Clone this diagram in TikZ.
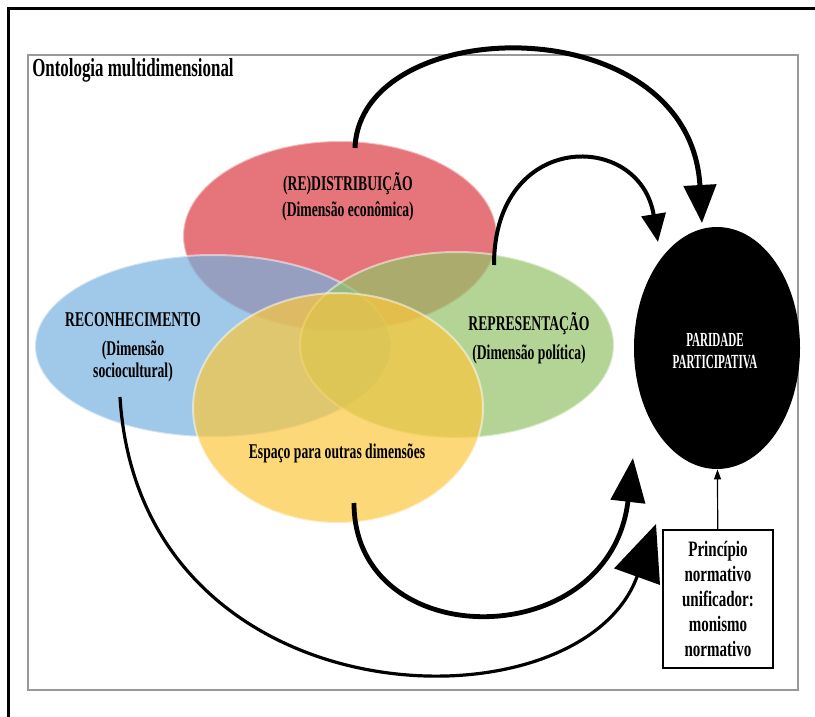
\documentclass[tikz,border=0pt]{standalone}
\usepackage{fontspec}
\setmainfont{Liberation Serif}
\usetikzlibrary{shapes.geometric,arrows.meta}
\definecolor{redistcol}{RGB}{218,59,65}
\definecolor{reconcol}{RGB}{119,176,222}
\definecolor{reprcol}{RGB}{148,194,105}
\definecolor{espacocol}{RGB}{251,199,62}

\begin{document}
\begin{tikzpicture}[x=0.5pt,y=-0.5pt,
  dim/.style={ellipse,inner sep=0,fill opacity=0.7,draw=white,draw opacity=0.5,line width=1pt},
  lbl/.style={font=\bfseries\fontsize{10.5}{11}\selectfont,xscale=0.65,align=center,inner sep=0},
  flow/.style={line width=#1,line cap=butt}]
\useasboundingbox (0,0) rectangle (815,717);
\draw[line width=1.5pt] (8,717) -- (8,9) -- (815,9);
\draw[gray!80,line width=0.6pt] (28,55) rectangle (798,690);
\node[lbl,anchor=west,font=\bfseries\fontsize{13}{15}\selectfont] (onto) at (32,70) {Ontologia multidimensional};

\node[dim,fill=redistcol,minimum width=157pt,minimum height=95pt] (redist) at (340,236) {};
\node[dim,fill=reconcol,minimum width=178pt,minimum height=91pt] (recon) at (213,346) {};
\node[dim,fill=reprcol,minimum width=157pt,minimum height=93pt] (repres) at (457,345) {};
\node[dim,fill=espacocol,minimum width=145pt,minimum height=115pt] (espaco) at (338,408) {};

\node[lbl] (redistlbl) at (348,184) {(RE)DISTRIBUIÇÃO};
\node[lbl] (redistsub) at (348,211) {(Dimensão econômica)};
\node[lbl] (reconlbl) at (133,320) {RECONHECIMENTO};
\node[lbl] (reconsub) at (133,361) {(Dimensão\\sociocultural)};
\node[lbl] (represlbl) at (529,324) {REPRESENTAÇÃO};
\node[lbl] (repressub) at (529,354) {(Dimensão política)};
\node[lbl] (espacolbl) at (337,453) {Espaço para outras dimensões};

\node[ellipse,fill=black,inner sep=0,minimum width=83pt,minimum height=121pt] (paridade) at (717,348) {};
\node[lbl,text=white,font=\bfseries\fontsize{10}{11}\selectfont,xscale=0.85] (paridadelbl) at (715,351) {PARIDADE\\PARTICIPATIVA};

\node[draw,line width=0.7pt,minimum width=55pt,minimum height=69pt,inner sep=0] (principio) at (718,599) {};
\node[lbl,font=\bfseries\fontsize{11}{12.5}\selectfont,xscale=1.05] (principiolbl) at (principio) {Princípio\\normativo\\unificador:\\monismo\\normativo};

\coordinate (redist-out) at (355,148);
\coordinate (repres-out) at (494,265);
\coordinate (espaco-out) at (354,503);
\coordinate (recon-out) at (120,397);
\coordinate (paridade-a) at (702,223);
\coordinate (paridade-b) at (658,242);
\coordinate (paridade-c) at (633,458);
\coordinate (paridade-d) at (656,524);

\draw[flow=2.5pt,-{Triangle[length=19pt,width=16pt]}] (redist-out) .. controls (360,12) and (690,5) .. (paridade-a);
\draw[flow=2pt,-{Triangle[length=14pt,width=12pt]}] (repres-out) .. controls (494,130) and (640,130) .. (paridade-b);
\draw[flow=2.4pt,-{Triangle[length=22pt,width=17pt]}] (espaco-out) .. controls (354,655) and (610,655) .. (paridade-c);
\draw[flow=1.6pt,-{Triangle[length=28pt,width=24pt]}] (recon-out) .. controls (140,725) and (580,735) .. (paridade-d);
\draw[line width=0.6pt,-{Triangle[length=5pt,width=3.5pt]}] (principio) -- (paridade);
\end{tikzpicture}
\end{document}
